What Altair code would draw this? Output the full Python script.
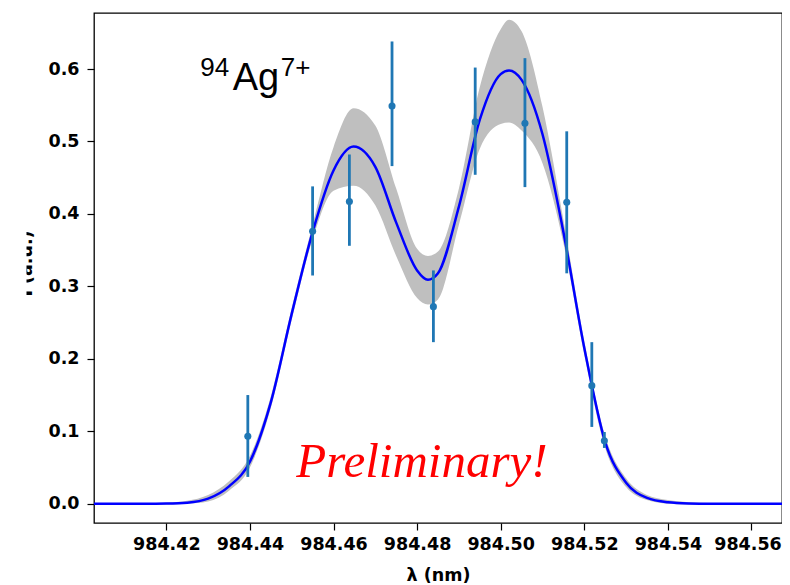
import altair as alt
import pandas as pd

# measured data points with error bars
pt_x = [984.4395, 984.4550, 984.4638, 984.4740, 984.4839, 984.4939, 984.5058, 984.5158, 984.5218, 984.5248]
pt_y = [0.093, 0.376, 0.417, 0.549, 0.272, 0.527, 0.525, 0.416, 0.163, 0.087]
pt_lo = [0.037, 0.315, 0.356, 0.466, 0.223, 0.454, 0.437, 0.318, 0.106, 0.077]
pt_hi = [0.150, 0.438, 0.482, 0.638, 0.322, 0.602, 0.615, 0.514, 0.223, 0.099]

# fitted curve and confidence band
fit_x = [984.400, 984.405, 984.410, 984.415, 984.420, 984.425, 984.430, 984.435, 984.440,
         984.445, 984.450, 984.455, 984.460, 984.4648, 984.470, 984.475, 984.480, 984.4826,
         984.485, 984.490, 984.495, 984.500, 984.502, 984.505, 984.510, 984.515, 984.520,
         984.525, 984.530, 984.535, 984.540, 984.545, 984.550, 984.555, 984.560, 984.565, 984.570]
fit_y = [0.0, 0.0, 0.0, 0.0, 0.0003, 0.0015, 0.007, 0.024, 0.058,
         0.140, 0.262, 0.375, 0.460, 0.493, 0.465, 0.388, 0.322, 0.309,
         0.318, 0.410, 0.530, 0.593, 0.598, 0.585, 0.510, 0.375, 0.215,
         0.085, 0.029, 0.008, 0.002, 0.0004, 0.0, 0.0, 0.0, 0.0, 0.0]
band_hi = [0.001, 0.001, 0.001, 0.001, 0.0015, 0.004, 0.012, 0.031, 0.066,
           0.148, 0.270, 0.385, 0.492, 0.546, 0.522, 0.435, 0.352, 0.342,
           0.348, 0.435, 0.575, 0.655, 0.668, 0.652, 0.548, 0.392, 0.224,
           0.093, 0.035, 0.012, 0.005, 0.002, 0.001, 0.001, 0.001, 0.001, 0.001]
band_lo = [-0.001, -0.001, -0.001, -0.001, -0.001, 0.0, 0.003, 0.018, 0.050,
           0.132, 0.254, 0.365, 0.432, 0.439, 0.412, 0.342, 0.284, 0.275,
           0.282, 0.385, 0.490, 0.524, 0.526, 0.515, 0.470, 0.360, 0.206,
           0.077, 0.023, 0.005, 0.0, -0.001, -0.001, -0.001, -0.001, -0.001, -0.001]

x_ticks = [984.42, 984.44, 984.46, 984.48, 984.50, 984.52, 984.54, 984.56]
y_ticks = [0.0, 0.1, 0.2, 0.3, 0.4, 0.5, 0.6]
x_domain = [984.4027, 984.5673]
y_domain = [-0.0266, 0.6773]

# annotations (data coordinates)
ann_text = ["94", "Ag", "7+"]
ann_x = [984.4281, 984.4359, 984.4474]
ann_y = [0.5908, 0.5714, 0.5908]
ann_size = [26, 38, 26]
prelim_text = "Preliminary!"
prelim_x = 984.4511
prelim_y = 0.0373

pts = pd.DataFrame({"x": pt_x, "y": pt_y, "lo": pt_lo, "hi": pt_hi})
fit = pd.DataFrame({"x": fit_x, "y": fit_y, "hi": band_hi, "lo": band_lo})
ann = pd.DataFrame({"t": ann_text, "x": ann_x, "y": ann_y, "s": ann_size})
pre = pd.DataFrame({"t": [prelim_text], "x": [prelim_x], "y": [prelim_y]})

xs = alt.Scale(domain=x_domain, nice=False, zero=False)
ys = alt.Scale(domain=y_domain, nice=False, zero=False)

x_axis = alt.Axis(values=x_ticks, format=".2f", title="λ (nm)", grid=False, domain=False,
                  labelFont="DejaVu Sans", labelFontWeight="bold", labelFontSize=17.5,
                  labelColor="black", tickColor="black", tickSize=7, tickWidth=1.2,
                  labelPadding=5, labelFlush=False,
                  labelOffset={"condition": {"test": "datum.value > 984.555", "value": -4}, "value": 0},
                  titleFont="DejaVu Sans", titleFontWeight="bold", titleFontSize=17.5,
                  titleColor="black", titleBaseline="alphabetic", titleY=57)
y_axis = alt.Axis(values=y_ticks, format=".1f", title="I (a.u.)", grid=False, domain=False,
                  labelFont="DejaVu Sans", labelFontWeight="bold", labelFontSize=17.5,
                  labelColor="black", tickColor="black", tickSize=7, tickWidth=1.2,
                  labelPadding=8, labelFlush=False,
                  titleFont="DejaVu Sans", titleFontWeight="bold", titleFontSize=17.5,
                  titleColor="black", titleBaseline="alphabetic", titleX=-63, titleY=250,
                  titleAngle=270)

band = alt.Chart(fit).mark_area(color="#bfbfbf", opacity=1, interpolate="monotone", clip=True).encode(
    x=alt.X("x:Q", scale=xs, axis=x_axis),
    y=alt.Y("lo:Q", scale=ys, axis=y_axis),
    y2="hi:Q",
)
curve = alt.Chart(fit).mark_line(color="#0000ff", strokeWidth=2.5, interpolate="monotone", clip=True).encode(
    x=alt.X("x:Q", scale=xs), y=alt.Y("y:Q", scale=ys)
)
err = alt.Chart(pts).mark_rule(color="#1f77b4", strokeWidth=2.8).encode(
    x=alt.X("x:Q", scale=xs), y=alt.Y("lo:Q", scale=ys), y2="hi:Q"
)
dots = alt.Chart(pts).mark_circle(color="#1f77b4", size=50, opacity=1).encode(
    x=alt.X("x:Q", scale=xs), y=alt.Y("y:Q", scale=ys)
)
label = alt.Chart(ann).mark_text(font="Liberation Sans", align="left", baseline="alphabetic",
                                 color="black").encode(
    x=alt.X("x:Q", scale=xs), y=alt.Y("y:Q", scale=ys), text="t:N",
    size=alt.Size("s:Q", scale=None, legend=None)
)
prelim = alt.Chart(pre).mark_text(font="Liberation Serif", fontStyle="italic", fontSize=49,
                                  align="left", baseline="alphabetic", color="#ff0000").encode(
    x=alt.X("x:Q", scale=xs), y=alt.Y("y:Q", scale=ys), text="t:N"
)
# white patch hiding most of the y-axis title, as in the source image
mask = alt.Chart(pd.DataFrame({"a": [0]})).mark_rect(color="white").encode(
    x=alt.value(-100), x2=alt.value(-67.5), y=alt.value(150), y2=alt.value(350)
)

chart = alt.layer(band, curve, err, dots, label, prelim, mask).properties(
    width=688, height=510,
    autosize=alt.AutoSizeParams(type="none"),
    padding={"left": 86, "top": 5, "right": 0, "bottom": 62},
).configure_view(stroke="black", strokeWidth=1.3)

chart.save("out.html", embed_options={"renderer": "svg", "actions": False})
